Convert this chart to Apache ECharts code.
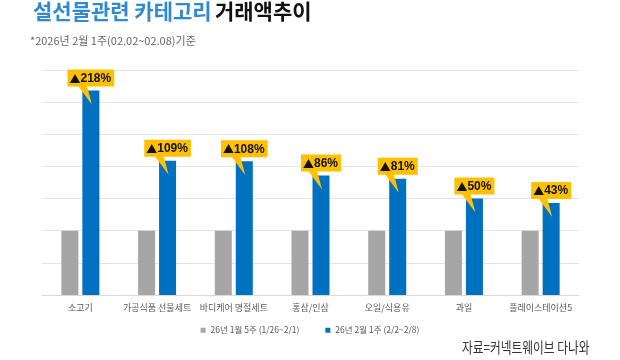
<!DOCTYPE html>
<html><head><meta charset="utf-8">
<script src="https://cdn.jsdelivr.net/npm/echarts@6/dist/echarts.min.js"></script>
<style>html,body{margin:0;padding:0;background:#fff}#c{width:620px;height:360px}</style>
</head><body><div id="c"></div>
<script>
const categories = ['소고기','가공식품 선물세트','바디케어 명절세트','홍삼/인삼','오일/식용유','과일','플레이스테이션5'];
const seriesNames = ['26년 1월 5주 (1/26~2/1)','26년 2월 1주 (2/2~2/8)'];
const prevWeek = [100,100,100,100,100,100,100];
const thisWeek = [318,209,208,186,181,150,143];
const growthLabels = ['218%','109%','108%','86%','81%','50%','43%'];

const FONT = '"Noto Sans CJK KR","Noto Sans",sans-serif';
const BAR_W = 17, BAR_GAP = 4;
const chart = echarts.init(document.getElementById('c'), null, {renderer:'canvas'});
chart.setOption({
  animation:false,
  backgroundColor:'#fff',
  grid:{left:42,right:41,top:70,bottom:65},
  legend:{
    data:seriesNames, top:321, left:'center',
    icon:'rect', itemWidth:5, itemHeight:5, itemGap:26, itemTextGap:3,
    textStyle:{fontFamily:FONT,fontSize:8.5,color:'#595959'}
  },
  xAxis:{type:'category',data:categories,
    axisLine:{lineStyle:{color:'#d9d9d9'}},axisTick:{show:false},
    axisLabel:{fontFamily:FONT,fontSize:9,color:'#595959',margin:8,interval:0}},
  yAxis:{type:'value',min:0,max:350,interval:50,
    axisLabel:{show:false},axisLine:{show:false},axisTick:{show:false},
    splitLine:{lineStyle:{color:'#e3e3e3'}}},
  series:[
    {name:seriesNames[0],type:'bar',data:prevWeek,barWidth:BAR_W,barGap:(BAR_GAP/BAR_W*100)+'%',
     itemStyle:{color:'#a6a6a6'}},
    {name:seriesNames[1],type:'bar',data:thisWeek,barWidth:BAR_W,
     itemStyle:{color:'#0070c0'}},
    {type:'custom',z:10,silent:true,
     data:thisWeek.map((v,i)=>[i,v]),
     renderItem:function(params,api){
       const i=api.value(0), v=api.value(1);
       const p=api.coord([i,v]);
       const cx=p[0]+(BAR_W+BAR_GAP)/2, top=p[1];
       const boxBottom=top-4;
       return {type:'group',children:[
         {type:'polygon',shape:{points:[[cx-13,boxBottom-1],[cx-4,boxBottom-1],[cx+1,top+14]]},
          style:{fill:'#ffc000'}},
         {type:'text',x:cx,y:boxBottom,
          style:{text:'{t|▲}{n|'+growthLabels[i]+'}',
            rich:{t:{fill:'#111',font:'11px "Noto Sans CJK KR",sans-serif',lineHeight:16},
                  n:{fill:'#111',font:'bold 12px "Liberation Sans","Noto Sans",sans-serif',lineHeight:16}},
            align:'center',verticalAlign:'bottom',
            backgroundColor:'#ffc000',padding:[1,3,0,2]}}
       ]};
     }}
  ],
  graphic:[
    {type:'text',left:33,top:1,style:{rich:{a:{fill:'#2f8ad1',font:'bold 21px '+FONT},b:{fill:'#111',font:'bold 21px '+FONT}},text:'{a|설선물관련 카테고리} {b|거래액추이}'}},
    {type:'text',left:30,top:35,style:{text:'*2026년 2월 1주(02.02~02.08)기준',fill:'#666',font:'11px '+FONT}},
    {type:'text',x:462,y:340,scaleX:0.78,style:{text:'자료=커넥트웨이브 다나와',fill:'#333',font:'15px '+FONT}}
  ]
});
</script></body></html>
